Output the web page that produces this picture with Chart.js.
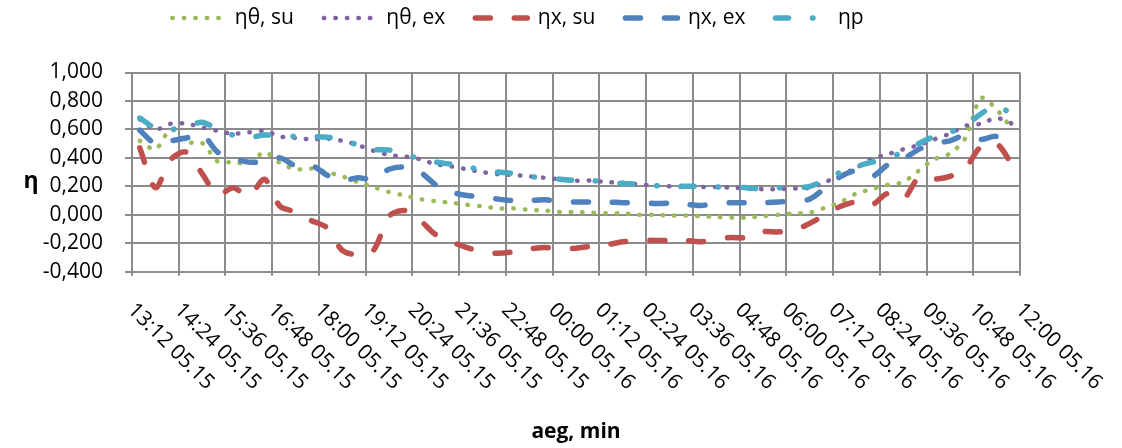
<!DOCTYPE html>
<html>
<head>
<meta charset="utf-8">
<script src="https://cdn.jsdelivr.net/npm/chart.js@4.4.1/dist/chart.umd.min.js"></script>
<style>
  html, body { margin: 0; background: #fff; }
  #wrap { width: 1122px; height: 448px; }
</style>
</head>
<body>
<div id="wrap"><canvas id="c"></canvas></div>
<script>
/* time of each sample (hh:mm), 05.15 -> 05.16 */
const TIMES = [
  '13:24','13:48','14:12','14:36','15:00','15:24','15:48','16:12','16:36','17:00',
  '17:24','17:48','18:12','18:36','19:00','19:24','19:48','20:12','20:36','21:00',
  '21:24','21:48','22:12','22:36','23:00','23:24','23:48','00:12','00:36','01:00',
  '01:24','01:48','02:12','02:36','03:00','03:24','03:48','04:12','04:36','05:00',
  '05:24','05:48','06:12','06:36','07:00','07:24','07:48','08:12','08:36','09:00',
  '09:24','09:48','10:12','10:36','11:00','11:24','11:48'
];

/* x tick labels, one every 72 min from 13:12 */
const X_TICK_LABELS = [
  '13:12 05.15','14:24 05.15','15:36 05.15','16:48 05.15','18:00 05.15',
  '19:12 05.15','20:24 05.15','21:36 05.15','22:48 05.15','00:00 05.16',
  '01:12 05.16','02:24 05.16','03:36 05.16','04:48 05.16','06:00 05.16',
  '07:12 05.16','08:24 05.16','09:36 05.16','10:48 05.16','12:00 05.16'
];

const ETA_THETA_SU = [
  0.52, 0.46, 0.60, 0.51, 0.505, 0.375, 0.37, 0.36, 0.44, 0.365,
  0.32, 0.325, 0.30, 0.27, 0.23, 0.195, 0.16, 0.135, 0.11, 0.095,
  0.085, 0.07, 0.06, 0.045, 0.045, 0.035, 0.03, 0.02, 0.02, 0.015,
  0.01, 0.01, 0.0, 0.0, -0.005, -0.005, -0.01, -0.015, -0.02, -0.02,
  -0.01, 0.0, 0.01, 0.015, 0.05, 0.09, 0.15, 0.18, 0.21, 0.23,
  0.31, 0.39, 0.43, 0.54, 0.82, 0.74, 0.60
];
const ETA_THETA_EX = [
  0.67, 0.60, 0.64, 0.64, 0.615, 0.59, 0.57, 0.58, 0.59, 0.55,
  0.54, 0.53, 0.535, 0.52, 0.49, 0.45, 0.42, 0.41, 0.39, 0.355,
  0.34, 0.32, 0.30, 0.285, 0.28, 0.27, 0.26, 0.25, 0.24, 0.24,
  0.23, 0.225, 0.215, 0.205, 0.20, 0.195, 0.195, 0.195, 0.19, 0.185,
  0.18, 0.18, 0.185, 0.19, 0.23, 0.28, 0.33, 0.395, 0.425, 0.46,
  0.49, 0.53, 0.57, 0.625, 0.64, 0.68, 0.64
];
const ETA_X_SU = [
  0.47, 0.19, 0.39, 0.44, 0.29, 0.14, 0.19, 0.13, 0.25, 0.06,
  0.02, -0.04, -0.09, -0.25, -0.28, -0.25, -0.01, 0.03, -0.04, -0.14,
  -0.19, -0.23, -0.26, -0.27, -0.26, -0.24, -0.23, -0.24, -0.235, -0.22,
  -0.21, -0.19, -0.18, -0.18, -0.18, -0.18, -0.19, -0.17, -0.16, -0.16,
  -0.12, -0.12, -0.11, -0.06, 0.0, 0.06, 0.09, 0.07, 0.15, 0.11,
  0.26, 0.25, 0.27, 0.33, 0.48, 0.50, 0.35
];
const ETA_X_EX = [
  0.595, 0.50, 0.52, 0.54, 0.565, 0.44, 0.40, 0.37, 0.375, 0.40,
  0.345, 0.35, 0.28, 0.24, 0.26, 0.25, 0.32, 0.335, 0.30, 0.21,
  0.16, 0.135, 0.13, 0.11, 0.10, 0.10, 0.105, 0.09, 0.09, 0.09,
  0.09, 0.085, 0.085, 0.08, 0.08, 0.075, 0.065, 0.08, 0.085, 0.085,
  0.085, 0.09, 0.10, 0.11, 0.19, 0.27, 0.31, 0.27, 0.35, 0.39,
  0.46, 0.50, 0.52, 0.56, 0.53, 0.55, 0.46
];
const ETA_P = [
  0.68, 0.61, 0.60, 0.62, 0.65, 0.60, 0.56, 0.545, 0.56, 0.56,
  0.55, 0.55, 0.545, 0.53, 0.49, 0.46, 0.455, 0.43, 0.39, 0.37,
  0.355, 0.34, 0.31, 0.30, 0.29, 0.27, 0.26, 0.25, 0.24, 0.24,
  0.23, 0.22, 0.215, 0.205, 0.20, 0.20, 0.20, 0.195, 0.195, 0.19,
  0.18, 0.19, 0.19, 0.20, 0.245, 0.30, 0.34, 0.37, 0.40, 0.44,
  0.50, 0.55, 0.58, 0.63, 0.71, 0.77, 0.70
];

const C = {
  green : '#9bbb59',
  purple: '#8064a2',
  red   : '#c0504d',
  blue  : '#4f81bd',
  cyan  : '#4bacc6',
  grid  : '#8c8c8c',
};

const FONT = '"Open Sans"';
Chart.defaults.color = '#000';
Chart.defaults.font = { family: FONT, size: 21 };

// minutes after 13:12 on 05.15
const START = 13 * 60 + 12;
function toMin(s) {
  const [h, m] = s.split(':').map(Number);
  let v = h * 60 + m - START;
  if (v < 0) v += 1440;
  return v;
}
const XS = TIMES.map(toMin);
const pts = arr => arr.map((y, i) => ({ x: XS[i], y }));

const DOT  = [0.5, 11];
const DASH = [15, 24];
const DDOT = [13, 24, 0.5, 24];

const series = [
  { label: 'ηθ, su', data: ETA_THETA_SU, color: C.green,  dash: DOT,  w: 4.5, order: 5 },
  { label: 'ηθ, ex', data: ETA_THETA_EX, color: C.purple, dash: DOT,  w: 4.5, order: 4 },
  { label: 'ηx, su', data: ETA_X_SU,     color: C.red,    dash: DASH, w: 5.5, order: 3 },
  { label: 'ηx, ex', data: ETA_X_EX,     color: C.blue,   dash: DASH, w: 5.5, order: 2 },
  { label: 'ηp',     data: ETA_P,        color: C.cyan,   dash: DDOT, w: 5.5, order: 1 },
];

/* rotated x labels, axis titles, legend offset */
const extras = {
  id: 'extras',
  afterLayout(chart) {
    const lg = chart.legend;
    lg.left += 8; lg.right += 8;
    lg.top -= 34; lg.bottom -= 34;
  },
  afterDraw(chart) {
    const ctx = chart.ctx, xs = chart.scales.x, a = chart.chartArea;
    ctx.save();
    ctx.fillStyle = '#000';
    ctx.font = '21px ' + FONT;
    ctx.textAlign = 'left';
    ctx.textBaseline = 'middle';
    xs.ticks.forEach((t, i) => {
      const lab = X_TICK_LABELS[i];
      if (!lab) return;
      ctx.save();
      ctx.translate(xs.getPixelForValue(t.value) - 1, a.bottom + 35);
      ctx.rotate(Math.PI / 4);
      ctx.fillText(lab, 0, 0);
      ctx.restore();
    });
    ctx.font = 'bold 21px ' + FONT;
    ctx.textAlign = 'center';
    ctx.fillText('aeg, min', (a.left + a.right) / 2, 432);
    ctx.font = 'bold 23px ' + FONT;
    ctx.fillText('η', 31, 181);
    ctx.restore();
  }
};

new Chart(document.getElementById('c'), {
  type: 'line',
  data: {
    datasets: series.map(s => ({
      label: s.label,
      data: pts(s.data),
      borderColor: s.color,
      backgroundColor: s.color,
      borderWidth: s.w,
      borderDash: s.dash,
      borderCapStyle: 'round',
      borderJoinStyle: 'round',
      pointRadius: 0,
      tension: 0.3,
      fill: false,
      order: s.order,
    }))
  },
  options: {
    responsive: true,
    maintainAspectRatio: false,
    animation: false,
    layout: { padding: { top: 11.5, right: 102, bottom: 0, left: 0 } },
    plugins: {
      tooltip: { enabled: false },
      legend: {
        position: 'top',
        labels: {
          usePointStyle: true,
          pointStyleWidth: 52,
          padding: 30,
          font: { family: FONT, size: 21 },
          sort: (a, b) => a.datasetIndex - b.datasetIndex,
          generateLabels: chart => chart.data.datasets.map((ds, i) => ({
            text: ds.label,
            strokeStyle: ds.borderColor,
            fillStyle: ds.borderColor,
            lineWidth: ds.borderWidth,
            lineDash: ds.borderDash,
            lineCap: 'round',
            pointStyle: 'line',
            fontColor: '#000',
            hidden: false,
            datasetIndex: i,
          })),
        }
      }
    },
    scales: {
      x: {
        type: 'linear',
        min: 0, max: 1368,
        afterFit: s => { s.height = 448 - 271.7; },
        ticks: { stepSize: 72, display: false, autoSkip: false },
        grid: { color: C.grid, lineWidth: 2, tickLength: 4 },
        border: { color: C.grid, width: 2 },
      },
      y: {
        min: -0.4, max: 1.0,
        afterFit: s => { s.width = 132; },
        ticks: {
          stepSize: 0.2,
          padding: 22,
          callback: v => (Math.abs(v) < 1e-9 ? 0 : v).toFixed(3).replace('.', ','),
        },
        grid: { color: C.grid, lineWidth: 2, tickLength: 7 },
        border: { color: C.grid, width: 2 },
      }
    }
  },
  plugins: [extras]
});
</script>
</body>
</html>
